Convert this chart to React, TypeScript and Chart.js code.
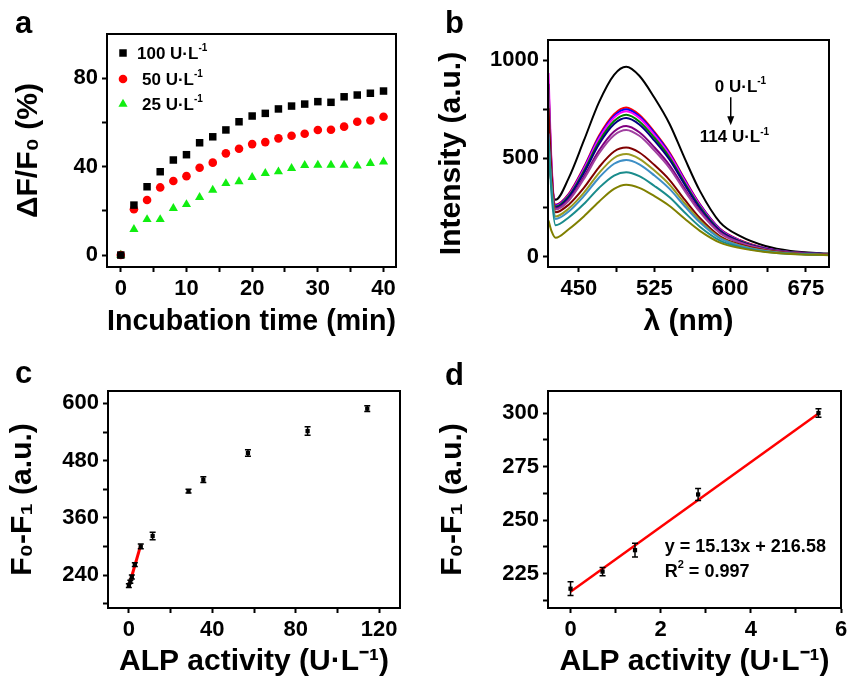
import React, { useEffect, useRef } from 'react';
import { Chart, registerables } from 'chart.js';
Chart.register(...registerables);

const FONT = "'Liberation Sans', Arial, Helvetica, sans-serif";

// ---------- Panel a ----------
const timeMin = [0, 2, 4, 6, 8, 10, 12, 14, 16, 18, 20, 22, 24, 26, 28, 30, 32, 34, 36, 38, 40];
const dF100 = [0, 22.6, 30.9, 37.7, 43, 45.4, 50.8, 53.5, 56.6, 60.3, 62.9, 64.1, 66.1, 67.4, 68.3, 69.4, 69.1, 71.6, 72.4, 73.2, 74.2];
const dF50 = [0, 20.7, 24.9, 30.6, 33.5, 35.7, 39.5, 41.8, 46, 48.1, 50.2, 51.1, 52.8, 54, 54.9, 56.6, 56.7, 58.1, 60.3, 60.9, 62.6];
const dF25 = [0, 11.6, 16.1, 16.1, 21.1, 22.9, 26.1, 29.4, 32.4, 33.2, 35.2, 37, 37.7, 39.2, 40.6, 40.7, 40.7, 40.7, 40.3, 41.5, 42.2];
const legendA = ['100', '50', '25'];

// ---------- Panel b ----------
const wavelengths = [420, 423, 427, 440, 455, 470, 485, 497, 510, 525, 540, 555, 570, 590, 610, 635, 660, 698];
const spec0 = [520, 370, 290, 400, 590, 785, 925, 966, 920, 808, 675, 500, 335, 175, 105, 55, 30, 16];
const spec1 = [700, 400, 265, 320, 455, 615, 725, 759, 722, 635, 530, 395, 268, 142, 84, 44, 24, 13];
const spec2 = [680, 395, 262, 316, 450, 607, 716, 750, 714, 628, 524, 390, 265, 140, 82, 43, 24, 13];
const spec3 = [934, 480, 258, 312, 445, 600, 708, 740, 706, 620, 518, 385, 262, 138, 81, 42, 23, 13];
const spec4 = [650, 385, 255, 308, 435, 585, 690, 722, 688, 605, 505, 375, 255, 134, 79, 41, 23, 12];
const spec5 = [620, 375, 250, 302, 425, 572, 675, 705, 672, 590, 493, 366, 248, 131, 77, 40, 22, 12];
const spec6 = [880, 460, 245, 290, 405, 540, 637, 665, 633, 556, 465, 345, 234, 124, 73, 38, 21, 12];
const spec7 = [850, 450, 240, 285, 395, 525, 618, 645, 615, 540, 451, 335, 228, 120, 71, 37, 20, 11];
const spec8 = [755, 420, 226, 265, 350, 455, 535, 555, 530, 466, 390, 290, 197, 104, 62, 33, 18, 10];
const spec9 = [580, 360, 205, 245, 325, 425, 502, 522, 498, 438, 366, 272, 185, 98, 58, 31, 17, 10];
const spec10 = [627, 350, 192, 230, 308, 402, 473, 492, 470, 413, 345, 257, 175, 93, 55, 29, 16, 9];
const spec11 = [600, 320, 160, 200, 268, 350, 413, 430, 410, 360, 302, 225, 153, 82, 49, 26, 15, 9];
const spec12 = [184, 130, 97, 140, 205, 280, 345, 366, 350, 308, 258, 193, 132, 72, 44, 24, 14, 8];
const spectra = [spec0, spec1, spec2, spec3, spec4, spec5, spec6, spec7, spec8, spec9, spec10, spec11, spec12];
const specColors = ['#000000', '#ff0000', '#0000ff', '#ff00ff', '#008000', '#000080', '#800080', '#a040a0', '#800000', '#9a9a20', '#3d8fc6', '#1a8c8c', '#808000'];

// ---------- Panel c ----------
const alpC = [0, 0.71, 1.43, 2.86, 5.71, 11.4, 28.6, 35.7, 57.1, 85.7, 114.3];
const signalC = [218, 226, 236, 262, 300, 322, 416, 440, 496, 542, 589];
const errC = [4, 3, 4, 4, 5, 8, 4, 6, 7, 9, 6];
const fitXC = [0, 5.8];
const fitYC = [216.6, 304.3];

// ---------- Panel d ----------
const alpD = [0, 0.71, 1.43, 2.83, 5.5];
const signalD = [218, 226, 236, 262, 300];
const errD = [3.2, 1.9, 3.2, 2.8, 2];
const fitXD = [0, 5.5];
const fitYD = [216.6, 299.8];

type Part = { t: string; sup?: boolean };

function drawRich(ctx: CanvasRenderingContext2D, parts: Part[], x: number, y: number, size: number) {
  let cx = x;
  ctx.textBaseline = 'alphabetic';
  ctx.textAlign = 'left';
  ctx.fillStyle = '#000';
  for (const p of parts) {
    const s = p.sup ? Math.round(size * 0.6) : size;
    ctx.font = `bold ${s}px ${FONT}`;
    const dy = p.sup ? -size * 0.45 : 0;
    ctx.fillText(p.t, cx, y + dy);
    cx += ctx.measureText(p.t).width;
  }
}

function unitParts(prefix: string): Part[] {
  return [{ t: prefix + 'U·L' }, { t: '-1', sup: true }];
}

function drawMarker(ctx: CanvasRenderingContext2D, style: string, x: number, y: number, r: number, color: string) {
  ctx.fillStyle = color;
  ctx.beginPath();
  if (style === 'rect') {
    const s = r / Math.SQRT2;
    ctx.rect(x - s, y - s, 2 * s, 2 * s);
  } else if (style === 'circle') {
    ctx.arc(x, y, r, 0, Math.PI * 2);
  } else {
    const h = r * 1.5;
    const w = r * Math.sqrt(3);
    ctx.moveTo(x, y - r);
    ctx.lineTo(x + w / 2, y - r + h);
    ctx.lineTo(x - w / 2, y - r + h);
    ctx.closePath();
  }
  ctx.fill();
}

type Decor = {
  letter: { t: string; x: number; y: number };
  legend?: { style: string; color: string; parts: Part[]; dy: number; tx: number }[];
  texts?: { parts: Part[]; x: number; y: number; size: number }[];
  arrow?: { x: number; y1: number; y2: number };
  errors?: { xs: number[]; ys: number[]; err: number[] };
};

function decorPlugin(d: Decor) {
  return {
    id: 'decor',
    afterDatasetsDraw(chart: any) {
      const ctx: CanvasRenderingContext2D = chart.ctx;
      const xs = chart.scales.x;
      const ys = chart.scales.y;
      ctx.save();
      if (d.errors) {
        ctx.strokeStyle = '#000';
        ctx.lineWidth = 1.5;
        d.errors.xs.forEach((xv, i) => {
          const px = xs.getPixelForValue(xv);
          const top = ys.getPixelForValue(d.errors!.ys[i] + d.errors!.err[i]);
          const bot = ys.getPixelForValue(d.errors!.ys[i] - d.errors!.err[i]);
          ctx.beginPath();
          ctx.moveTo(px, top);
          ctx.lineTo(px, bot);
          ctx.moveTo(px - 3, top);
          ctx.lineTo(px + 3, top);
          ctx.moveTo(px - 3, bot);
          ctx.lineTo(px + 3, bot);
          ctx.stroke();
        });
      }
      ctx.restore();
    },
    afterDraw(chart: any) {
      const ctx: CanvasRenderingContext2D = chart.ctx;
      const a = chart.chartArea;
      const xs = chart.scales.x;
      const ys = chart.scales.y;
      ctx.save();
      ctx.strokeStyle = '#000';
      ctx.lineWidth = 2;
      ctx.strokeRect(a.left, a.top, a.right - a.left, a.bottom - a.top);
      ctx.fillStyle = '#000';
      ctx.font = `bold 31px ${FONT}`;
      ctx.textBaseline = 'alphabetic';
      ctx.textAlign = 'left';
      ctx.fillText(d.letter.t, d.letter.x, d.letter.y);
      if (d.legend) {
        d.legend.forEach((it) => {
          const my = a.top + it.dy;
          drawMarker(ctx, it.style, a.left + 16, my, it.style === 'circle' ? 4.3 : 5.3, it.color);
          drawRich(ctx, it.parts, it.tx, my + 6, 17);
        });
      }
      if (d.texts) {
        d.texts.forEach((t) => {
          drawRich(ctx, t.parts, xs.getPixelForValue(t.x), ys.getPixelForValue(t.y), t.size);
        });
      }
      if (d.arrow) {
        const px = xs.getPixelForValue(d.arrow.x);
        const y1 = ys.getPixelForValue(d.arrow.y1);
        const y2 = ys.getPixelForValue(d.arrow.y2);
        ctx.strokeStyle = '#000';
        ctx.lineWidth = 1.5;
        ctx.beginPath();
        ctx.moveTo(px, y1);
        ctx.lineTo(px, y2 - 6);
        ctx.stroke();
        ctx.fillStyle = '#000';
        ctx.beginPath();
        ctx.moveTo(px, y2);
        ctx.lineTo(px - 3.5, y2 - 9);
        ctx.lineTo(px + 3.5, y2 - 9);
        ctx.closePath();
        ctx.fill();
      }
      ctx.restore();
    },
  };
}

function axis(o: {
  position: 'left' | 'bottom';
  min: number;
  max: number;
  ticks: number[];
  labels: number[];
  title: string;
  size: number;
}) {
  return {
    type: 'linear',
    position: o.position,
    min: o.min,
    max: o.max,
    afterBuildTicks: (s: any) => {
      s.ticks = o.ticks.map((v) => ({ value: v }));
    },
    afterFit: (s: any) => {
      if (o.position === 'left') {
        s.width = o.size;
        s.paddingTop = 0;
        s.paddingBottom = 0;
      } else {
        s.height = o.size;
        s.paddingLeft = 0;
        s.paddingRight = 0;
      }
    },
    grid: { display: true, drawOnChartArea: false, drawTicks: true, tickLength: 5, tickWidth: 2, tickColor: '#000' },
    border: { display: true, color: '#000', width: 2 },
    ticks: {
      autoSkip: false,
      maxRotation: 0,
      minRotation: 0,
      padding: 4,
      color: '#000',
      font: { family: FONT, size: 22, weight: 'bold' },
      callback: (v: number) => (o.labels.includes(v) ? String(v) : ''),
    },
    title: {
      display: true,
      text: o.title,
      color: '#000',
      font: { family: FONT, size: 30, weight: 'bold' },
      padding: o.position === 'left' ? { top: 4, bottom: 4 } : { top: 0, bottom: 0 },
    },
  };
}

function baseOptions(W: number, area: { l: number; t: number; r: number }, padLeft: number) {
  return {
    responsive: false,
    animation: false,
    devicePixelRatio: 1,
    layout: { padding: { left: padLeft, top: area.t, right: W - area.r, bottom: 0 } },
    plugins: { legend: { display: false }, tooltip: { enabled: false } },
  };
}

function buildA(): any {
  const W = 420, H = 340;
  const area = { l: 107, t: 34, r: 396, b: 267 };
  const padLeft = 7;
  const mk = (ys: number[]) => timeMin.map((x, i) => ({ x, y: ys[i] }));
  return {
    type: 'scatter',
    data: {
      datasets: [
        { data: mk(dF100), pointStyle: 'rect', pointRadius: 5.3, backgroundColor: '#000', borderColor: '#000', borderWidth: 0 },
        { data: mk(dF50), pointStyle: 'circle', pointRadius: 4.3, backgroundColor: '#ff0000', borderColor: '#ff0000', borderWidth: 0 },
        { data: mk(dF25), pointStyle: 'triangle', pointRadius: 5.3, backgroundColor: '#11ee11', borderColor: '#11ee11', borderWidth: 0 },
      ],
    },
    options: {
      ...baseOptions(W, area, padLeft),
      scales: {
        x: axis({ position: 'bottom', min: -2.1, max: 41.9, ticks: [0, 5, 10, 15, 20, 25, 30, 35, 40], labels: [0, 10, 20, 30, 40], title: 'Incubation time (min)', size: H - area.b }),
        y: axis({ position: 'left', min: -5.4, max: 100, ticks: [0, 20, 40, 60, 80], labels: [0, 40, 80], title: 'ΔF/F₀ (%)', size: area.l - padLeft }),
      },
    },
    plugins: [
      decorPlugin({
        letter: { t: 'a', x: 15, y: 33 },
        legend: [
          { style: 'rect', color: '#000', parts: unitParts(legendA[0] + ' '), dy: 19, tx: 137 },
          { style: 'circle', color: '#ff0000', parts: unitParts(legendA[1] + ' '), dy: 45, tx: 142 },
          { style: 'triangle', color: '#11ee11', parts: unitParts(legendA[2] + ' '), dy: 70, tx: 142 },
        ],
      }),
    ],
  };
}

function buildB(): any {
  const W = 427, H = 340;
  const area = { l: 128, t: 40, r: 409, b: 267 };
  const padLeft = 10;
  const datasets = spectra
    .map((s, k) => ({
      data: wavelengths.map((x, i) => ({ x, y: s[i] })),
      showLine: true,
      borderColor: specColors[k],
      backgroundColor: specColors[k],
      borderWidth: 2,
      pointRadius: 0,
      cubicInterpolationMode: 'monotone',
    }))
    .reverse();
  return {
    type: 'scatter',
    data: { datasets },
    options: {
      ...baseOptions(W, area, padLeft),
      scales: {
        x: axis({ position: 'bottom', min: 419.5, max: 698, ticks: [450, 487.5, 525, 562.5, 600, 637.5, 675], labels: [450, 525, 600, 675], title: 'λ (nm)', size: H - area.b }),
        y: axis({ position: 'left', min: -52, max: 1102, ticks: [0, 250, 500, 750, 1000], labels: [0, 500, 1000], title: 'Intensity (a.u.)', size: area.l - padLeft }),
      },
    },
    plugins: [
      decorPlugin({
        letter: { t: 'b', x: 25, y: 33 },
        texts: [
          { parts: unitParts('0 '), x: 584.8, y: 837, size: 17 },
          { parts: unitParts('114 '), x: 569.9, y: 582, size: 17 },
        ],
        arrow: { x: 600.6, y1: 811, y2: 668 },
      }),
    ],
  };
}

function buildC(): any {
  const W = 420, H = 340;
  const area = { l: 108, t: 51, r: 400, b: 268 };
  const padLeft = 1;
  return {
    type: 'scatter',
    data: {
      datasets: [
        { data: alpC.map((x, i) => ({ x, y: signalC[i] })), pointStyle: 'rect', pointRadius: 3, backgroundColor: '#000', borderWidth: 0 },
        { data: fitXC.map((x, i) => ({ x, y: fitYC[i] })), showLine: true, borderColor: '#ff0000', borderWidth: 3, pointRadius: 0 },
      ],
    },
    options: {
      ...baseOptions(W, area, padLeft),
      scales: {
        x: axis({ position: 'bottom', min: -10, max: 130, ticks: [0, 20, 40, 60, 80, 100, 120], labels: [0, 40, 80, 120], title: 'ALP activity (U·L⁻¹)', size: H - area.b }),
        y: axis({ position: 'left', min: 171, max: 626, ticks: [180, 240, 300, 360, 420, 480, 540, 600], labels: [240, 360, 480, 600], title: 'F₀-F₁ (a.u.)', size: area.l - padLeft }),
      },
    },
    plugins: [
      decorPlugin({
        letter: { t: 'c', x: 15, y: 43 },
        errors: { xs: alpC, ys: signalC, err: errC },
      }),
    ],
  };
}

function buildD(): any {
  const W = 427, H = 340;
  const area = { l: 128, t: 51, r: 421, b: 268 };
  const padLeft = 11;
  return {
    type: 'scatter',
    data: {
      datasets: [
        { data: alpD.map((x, i) => ({ x, y: signalD[i] })), pointStyle: 'rect', pointRadius: 3, backgroundColor: '#000', borderWidth: 0 },
        { data: fitXD.map((x, i) => ({ x, y: fitYD[i] })), showLine: true, borderColor: '#ff0000', borderWidth: 2.5, pointRadius: 0 },
      ],
    },
    options: {
      ...baseOptions(W, area, padLeft),
      scales: {
        x: axis({ position: 'bottom', min: -0.5, max: 6, ticks: [0, 1, 2, 3, 4, 5, 6], labels: [0, 2, 4, 6], title: 'ALP activity (U·L⁻¹)', size: H - area.b }),
        y: axis({ position: 'left', min: 209, max: 310.3, ticks: [212.5, 225, 237.5, 250, 262.5, 275, 287.5, 300], labels: [225, 250, 275, 300], title: 'F₀-F₁ (a.u.)', size: area.l - padLeft }),
      },
    },
    plugins: [
      decorPlugin({
        letter: { t: 'd', x: 25, y: 45 },
        errors: { xs: alpD, ys: signalD, err: errD },
        texts: [
          { parts: [{ t: 'y = 15.13x + 216.58' }], x: 2.09, y: 235.3, size: 18 },
          { parts: [{ t: 'R' }, { t: '2', sup: true }, { t: ' = 0.997' }], x: 2.09, y: 223.7, size: 18 },
        ],
      }),
    ],
  };
}

function Panel(props: { left: number; top: number; width: number; height: number; build: () => any }) {
  const ref = useRef<HTMLCanvasElement>(null);
  useEffect(() => {
    const chart = new Chart(ref.current as HTMLCanvasElement, props.build());
    return () => chart.destroy();
  }, []);
  return (
    <canvas
      ref={ref}
      width={props.width}
      height={props.height}
      style={{ position: 'absolute', left: props.left, top: props.top, width: props.width, height: props.height }}
    />
  );
}

export default function App() {
  return (
    <div style={{ position: 'fixed', left: 0, top: 0, width: 847, height: 680, background: '#fff', overflow: 'hidden' }}>
      <Panel left={0} top={0} width={420} height={340} build={buildA} />
      <Panel left={420} top={0} width={427} height={340} build={buildB} />
      <Panel left={0} top={340} width={420} height={340} build={buildC} />
      <Panel left={420} top={340} width={427} height={340} build={buildD} />
    </div>
  );
}
